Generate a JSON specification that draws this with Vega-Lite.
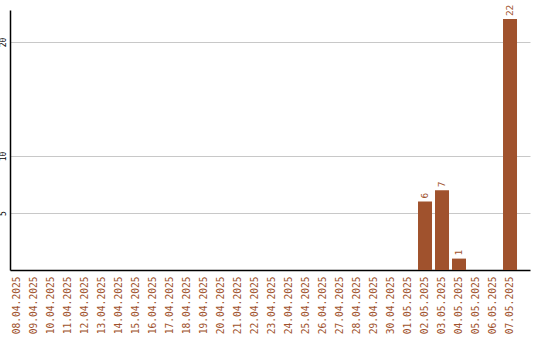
{
  "$schema": "https://vega.github.io/schema/vega-lite/v6.json",
  "width": 520,
  "height": 260,
  "autosize": "none",
  "padding": {"left": 10, "top": 10, "right": 10, "bottom": 70},
  "background": "white",
  "config": {
    "view": {"stroke": null},
    "font": "DejaVu Sans Mono"
  },
  "data": {
    "values": [
      {"date": "08.04.2025", "count": 0},
      {"date": "09.04.2025", "count": 0},
      {"date": "10.04.2025", "count": 0},
      {"date": "11.04.2025", "count": 0},
      {"date": "12.04.2025", "count": 0},
      {"date": "13.04.2025", "count": 0},
      {"date": "14.04.2025", "count": 0},
      {"date": "15.04.2025", "count": 0},
      {"date": "16.04.2025", "count": 0},
      {"date": "17.04.2025", "count": 0},
      {"date": "18.04.2025", "count": 0},
      {"date": "19.04.2025", "count": 0},
      {"date": "20.04.2025", "count": 0},
      {"date": "21.04.2025", "count": 0},
      {"date": "22.04.2025", "count": 0},
      {"date": "23.04.2025", "count": 0},
      {"date": "24.04.2025", "count": 0},
      {"date": "25.04.2025", "count": 0},
      {"date": "26.04.2025", "count": 0},
      {"date": "27.04.2025", "count": 0},
      {"date": "28.04.2025", "count": 0},
      {"date": "29.04.2025", "count": 0},
      {"date": "30.04.2025", "count": 0},
      {"date": "01.05.2025", "count": 0},
      {"date": "02.05.2025", "count": 6},
      {"date": "03.05.2025", "count": 7},
      {"date": "04.05.2025", "count": 1},
      {"date": "05.05.2025", "count": 0},
      {"date": "06.05.2025", "count": 0},
      {"date": "07.05.2025", "count": 22}
    ]
  },
  "encoding": {
    "x": {
      "field": "date",
      "type": "nominal",
      "sort": null,
      "scale": {"paddingInner": 0.1765, "paddingOuter": 0.382, "align": 0},
      "axis": {
        "title": null,
        "labelAngle": 270,
        "labelAlign": "right",
        "labelBaseline": "middle",
        "labelColor": "#a0522d",
        "labelFont": "DejaVu Sans Mono",
        "labelFontSize": 9.6,
        "labelPadding": 6,
        "ticks": false,
        "domainColor": "black",
        "domainWidth": 1.5,
        "grid": false
      }
    },
    "y": {
      "field": "count",
      "type": "quantitative",
      "scale": {"domain": [0, 22.8], "nice": false, "zero": true},
      "axis": {
        "title": null,
        "values": [5, 10, 20],
        "labelAngle": 270,
        "labelAlign": "center",
        "labelBaseline": "bottom",
        "labelColor": "black",
        "labelFont": "DejaVu Sans Mono",
        "labelFontSize": 8,
        "labelPadding": 3,
        "ticks": false,
        "domainColor": "black",
        "domainWidth": 1.5,
        "grid": true,
        "gridColor": "#c8c8c8",
        "gridWidth": 1
      }
    }
  },
  "layer": [
    {
      "mark": {"type": "bar", "color": "#a0522d"}
    },
    {
      "transform": [{"filter": "datum.count > 0"}],
      "mark": {
        "type": "text",
        "angle": 270,
        "align": "left",
        "baseline": "middle",
        "dx": 3,
        "color": "#a0522d",
        "font": "DejaVu Sans Mono",
        "fontSize": 9.5
      },
      "encoding": {"text": {"field": "count", "type": "quantitative"}}
    }
  ]
}
